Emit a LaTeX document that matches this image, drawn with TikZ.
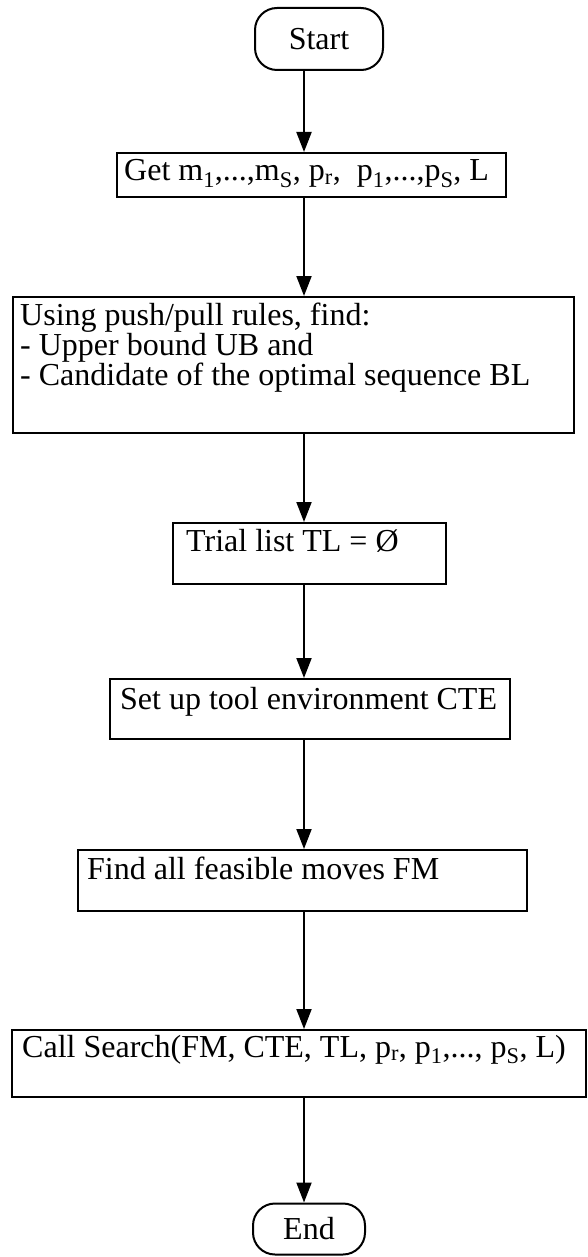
\documentclass[tikz,border=0pt]{standalone}
\usepackage{fontspec}
\setmainfont{Liberation Serif}
\usetikzlibrary{arrows.meta,calc}
\begin{document}
\begin{tikzpicture}[x=1pt,y=-1pt,
  every node/.style={font=\fontsize{32pt}{35pt}\selectfont, inner sep=0pt},
  stepbox/.style={draw, line width=2pt, rectangle},
  terminal/.style={draw, line width=2pt, rectangle, rounded corners=22pt},
  boxtext/.style={anchor=base west},
  flow/.style={line width=2pt, -{Triangle[length=20pt,width=15pt]}}]
\useasboundingbox (0,0) rectangle (588,1257);
% common vertical axis of the connectors
\coordinate (axis) at (304,0);

% terminals and process boxes
\node[terminal, minimum width=128pt, minimum height=62pt] (start) at (319,39) {Start};
\node[stepbox, minimum width=389pt, minimum height=44pt] (get) at (311.5,175) {};
\node[stepbox, minimum width=561pt, minimum height=136pt] (using) at (293.5,365) {};
\node[stepbox, minimum width=273pt, minimum height=61pt] (trial) at (309.5,553.5) {};
\node[stepbox, minimum width=400pt, minimum height=60pt] (setup) at (310,709) {};
\node[stepbox, minimum width=449pt, minimum height=61pt] (find) at (302.5,880.5) {};
\node[stepbox, minimum width=574pt, minimum height=67pt] (call) at (299,1063.5) {};
\node[terminal, minimum width=112pt, minimum height=51pt] (end) at (309,1229) {End};

% box texts
\node[boxtext] (getT) at ($(get.north west)+(8,29)$)
  {Get m\textsubscript{1},...,m\textsubscript{S}, p\textsubscript{r},\ \ p\textsubscript{1},...,p\textsubscript{S}, L};
\node[boxtext] (usingA) at ($(using.north west)+(8,29)$) {Using push/pull rules, find:};
\node[boxtext] (usingB) at ($(using.north west)+(8,59)$) {- Upper bound UB and};
\node[boxtext] (usingC) at ($(using.north west)+(8,89)$) {- Candidate of the optimal sequence BL};
\node[boxtext] (trialT) at ($(trial.north west)+(14,29)$) {Trial list TL = Ø};
\node[boxtext] (setupT) at ($(setup.north west)+(11,31)$) {Set up tool environment CTE};
\node[boxtext] (findT) at ($(find.north west)+(10,30)$) {Find all feasible moves FM};
\node[boxtext] (callT) at ($(call.north west)+(11,28)$)
  {Call Search(FM, CTE, TL, p\textsubscript{r}, p\textsubscript{1},..., p\textsubscript{S}, L)};

% connectors
\draw[flow] (start.south -| axis) -- (get.north -| axis);
\draw[flow] (get.south -| axis) -- (using.north -| axis);
\draw[flow] (using.south -| axis) -- (trial.north -| axis);
\draw[flow] (trial.south -| axis) -- (setup.north -| axis);
\draw[flow] (setup.south -| axis) -- (find.north -| axis);
\draw[flow] (find.south -| axis) -- (call.north -| axis);
\draw[flow] (call.south -| axis) -- (end.north -| axis);
\end{tikzpicture}
\end{document}
